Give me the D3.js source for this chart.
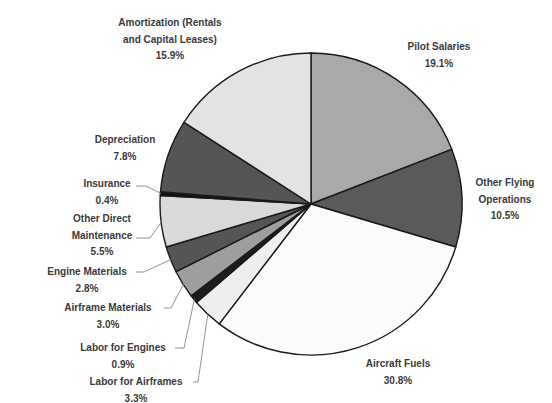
<!DOCTYPE html>
<html>
<head>
<meta charset="utf-8">
<script src="https://cdn.jsdelivr.net/npm/d3@7"></script>
<style>
  html, body { margin: 0; padding: 0; background: #fff; }
  svg { display: block; }
  text { font-family: "Liberation Sans", Arial, sans-serif; font-size: 10px; font-weight: bold; fill: #3a3a3a; }
</style>
</head>
<body>
<svg id="chart" width="552" height="403"></svg>
<script>
const categories = ["Pilot Salaries", "Other Flying Operations", "Aircraft Fuels", "Labor for Airframes",
  "Labor for Engines", "Airframe Materials", "Engine Materials", "Other Direct Maintenance",
  "Insurance", "Depreciation", "Amortization (Rentals and Capital Leases)"];
const values = [19.1, 10.5, 30.8, 3.3, 0.9, 3.0, 2.8, 5.5, 0.4, 7.8, 15.9];
const labelLines = [
  ["Pilot Salaries"], ["Other Flying", "Operations"], ["Aircraft Fuels"], ["Labor for Airframes"],
  ["Labor for Engines"], ["Airframe Materials"], ["Engine Materials"], ["Other Direct", "Maintenance"],
  ["Insurance"], ["Depreciation"], ["Amortization (Rentals", "and Capital Leases)"]
];
const fills = ["#a9a9a9", "#5a5a5a", "#fbfbfb", "#eeeeee", "#1c1c1c", "#9e9e9e", "#555555",
  "#d9d9d9", "#111111", "#555555", "#e3e3e3"];

const svg = d3.select("#chart");
const cx = 311, cy = 204, r = 151;
const g = svg.append("g").attr("transform", `translate(${cx},${cy})`);

const pie = d3.pie().sort(null).value(d => d)(values);
const arc = d3.arc().innerRadius(0).outerRadius(r);

g.selectAll("path").data(pie).enter().append("path")
  .attr("d", arc)
  .attr("fill", (d, i) => fills[i])
  .attr("stroke", "#1a1a1a")
  .attr("stroke-width", 1.4)
  .attr("stroke-linejoin", "round");

const labelPos = [
  {x: 439, y: 50}, {x: 505, y: 186}, {x: 398, y: 367}, {x: 136, y: 385},
  {x: 123, y: 351}, {x: 108, y: 311}, {x: 87, y: 275}, {x: 102, y: 222},
  {x: 107, y: 187}, {x: 125, y: 143}, {x: 170, y: 26}
];
const leaders = {
  3: {start: [193, 382], elbow: [198, 382]},
  4: {start: [175, 348], elbow: [184, 348]},
  5: {start: [164, 308], elbow: [171, 308]},
  6: {start: [136, 272], elbow: [144, 272]},
  7: {start: [136, 238], elbow: [150, 238]},
  8: {start: [136, 186], elbow: [146, 186]}
};

const lineH = 16.5;
pie.forEach((d, i) => {
  const lp = labelPos[i];
  const lines = labelLines[i].concat([values[i].toFixed(1) + "%"]);
  const t = svg.append("text").attr("text-anchor", "middle");
  lines.forEach((s, k) => {
    t.append("tspan").attr("x", lp.x).attr("y", lp.y + k * lineH).text(s);
  });
  if (leaders[i]) {
    const mid = (d.startAngle + d.endAngle) / 2;
    const ex = cx + (r - 1) * Math.sin(mid), ey = cy - (r - 1) * Math.cos(mid);
    const L = leaders[i];
    svg.append("polyline")
      .attr("points", [L.start, L.elbow, [ex, ey]].map(p => p.join(",")).join(" "))
      .attr("fill", "none").attr("stroke", "#777").attr("stroke-width", 0.8);
  }
});
</script>
</body>
</html>
